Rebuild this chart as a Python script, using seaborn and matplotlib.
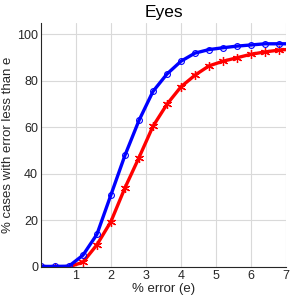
import matplotlib
matplotlib.use("Agg")
import matplotlib.pyplot as plt
import pandas as pd
import seaborn as sns

# error threshold (%)
err = [0.0, 0.4, 0.8, 1.2, 1.6, 2.0, 2.4, 2.8, 3.2, 3.6, 4.0, 4.4, 4.8,
       5.2, 5.6, 6.0, 6.4, 6.8, 7.0]
blue_vals = [0.2, 0.2, 0.3, 5.0, 14.0, 31.0, 48.0, 63.0, 75.5, 83.0, 88.5,
             92.0, 93.5, 94.3, 95.0, 95.5, 96.0, 96.0, 96.0]
red_vals = [0.0, 0.0, 0.0, 2.0, 9.5, 19.5, 34.0, 47.0, 60.5, 70.0, 77.5,
            82.5, 86.5, 88.5, 90.0, 91.5, 92.5, 93.3, 93.5]
xticks = [1, 2, 3, 4, 5, 6, 7]
yticks = [0, 20, 40, 60, 80, 100]

df = pd.DataFrame({"err": err, "blue": blue_vals, "red": red_vals})

sns.set_theme(style="whitegrid")
plt.rcParams.update({
    "font.family": ["Liberation Sans", "DejaVu Sans"],
    "axes.edgecolor": "0.15",
    "axes.linewidth": 0.8,
    "grid.color": "0.85",
    "grid.linewidth": 0.8,
    "xtick.direction": "in",
    "ytick.direction": "in",
})

fig = plt.figure(figsize=(3.05, 3.05), dpi=100)
ax = fig.add_axes([0.134, 0.125, 0.804, 0.80])

n = len(err) - 1
# asterisk marker, MATLAB style
sns.lineplot(data=df, x="err", y="red", ax=ax, color="red", lw=2.4,
             marker=(6, 2, 0), markersize=6.5,
             markeredgecolor="red", markeredgewidth=0.9,
             markevery=list(range(n)))
sns.lineplot(data=df, x="err", y="blue", ax=ax, color="blue", lw=2.4,
             marker="o", markersize=4.2, markerfacecolor="none",
             markeredgecolor="blue", markeredgewidth=0.8,
             markevery=list(range(n)))

ax.set_xlim(0, 7)
ax.set_ylim(0, 105)
ax.set_xticks(xticks)
ax.set_yticks(yticks)
ax.tick_params(labelsize=9, colors="0.15", length=3, pad=2)
ax.set_xlabel("% error (e)", fontsize=9.5, color="0.15", labelpad=1)
ax.set_ylabel("% cases with error less than e", fontsize=9.5, color="0.15",
              labelpad=2)
ax.set_title("Eyes", fontsize=12.5, color="black", pad=4)
for s in ["top", "right"]:
    ax.spines[s].set_visible(False)
ax.spines["left"].set_visible(True)
ax.spines["bottom"].set_visible(True)

fig.savefig("out.png", dpi=100)
